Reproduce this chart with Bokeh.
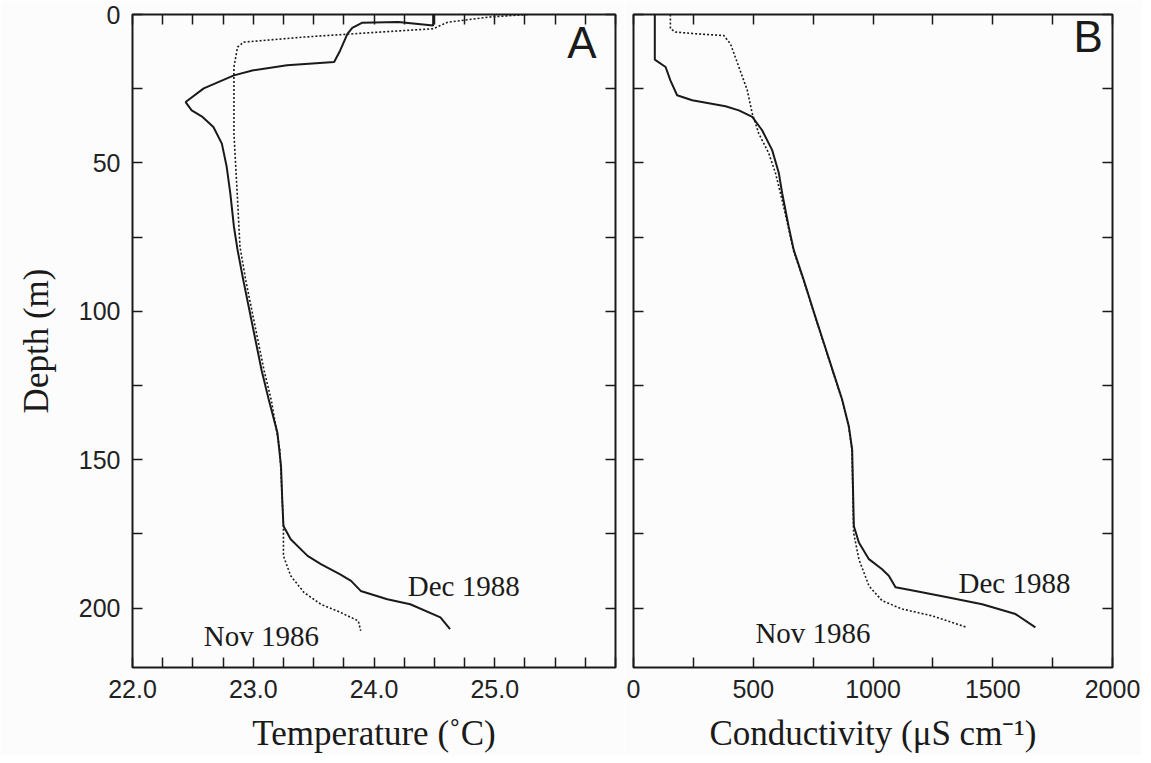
from bokeh.plotting import figure
from bokeh.models import Range1d, FixedTicker, LinearAxis, Label
from bokeh.layouts import row
from bokeh.embed import file_html
from bokeh.resources import INLINE

# ---------------- data ----------------
# Panel A: temperature profiles
temp_dec_depth = [0, 3.7, 2.5, 2.8, 4.5, 6.5, 12.1, 16.0, 17.1, 18.8, 20.5, 24.9, 29.5, 32.3,
                  34.5, 37.9, 43.5, 51.3, 60.3, 71.5, 79.3, 90, 100, 110, 120, 130, 140.9,
                  152.2, 163.4, 172.3, 176.8, 182.4, 185.2, 188.6, 190.8, 194.2, 197.0,
                  198.7, 203.1, 207.1]
temp_dec = [24.49, 24.49, 24.20, 23.90, 23.82, 23.78, 23.72, 23.67, 23.28, 23.00, 22.84,
            22.59, 22.44, 22.49, 22.58, 22.67, 22.74, 22.78, 22.81, 22.84, 22.87, 22.92,
            22.97, 23.02, 23.07, 23.13, 23.20, 23.23, 23.24, 23.25, 23.31, 23.45, 23.56,
            23.72, 23.81, 23.89, 24.11, 24.30, 24.55, 24.63]

temp_nov_depth = [0, 0.9, 2.6, 4.8, 5.4, 6.5, 7.6, 9.3, 11.0, 17.7, 40.1, 62.5, 78.2, 90,
                  100, 110, 120, 130, 146.6, 163.4, 172.3, 182.4, 189.1, 194.7, 198.7,
                  201.4, 204.3, 207.6]
temp_nov = [25.27, 24.94, 24.61, 24.49, 24.25, 23.83, 23.42, 22.92, 22.87, 22.84, 22.84,
            22.87, 22.89, 22.94, 22.99, 23.04, 23.09, 23.15, 23.22, 23.24, 23.25, 23.25,
            23.31, 23.42, 23.56, 23.72, 23.87, 23.89]

# Panel B: conductivity profiles
cond_dec_depth = [0, 15.2, 17.7, 22.2, 27.2, 28.9, 30.9, 32.3, 34.5, 39.0, 45.7, 53.5, 60.3,
                  71.5, 79.3, 90, 100, 110, 120, 129.7, 138.7, 146.6, 157.8, 172.3, 177.9,
                  183.5, 186.9, 189.1, 193.0, 194.2, 196.4, 198.7, 202.0, 206.5]
cond_dec = [89, 89, 134, 154, 182, 245, 384, 440, 496, 537, 579, 607, 621, 648, 669, 713,
            752, 792, 832, 871, 899, 913, 916, 920, 941, 983, 1038, 1066, 1094, 1177, 1316,
            1456, 1595, 1678]

cond_nov_depth = [0, 4.8, 5.9, 6.5, 7.1, 9.9, 17.7, 25.5, 33.4, 40.1, 46.8, 53.5, 60.3, 71.5,
                  79.3, 90, 100, 110, 120, 129.7, 138.7, 146.6, 157.8, 174.6, 183.5, 192.5,
                  197.5, 200.3, 202.6, 206.5]
cond_nov = [154, 154, 175, 260, 377, 405, 440, 475, 496, 523, 565, 593, 614, 646, 667, 712,
            751, 791, 831, 870, 898, 912, 915, 919, 941, 983, 1038, 1122, 1247, 1393]

# ticks / labels
depth_ticks = [0, 50, 100, 150, 200]
depth_minor = [25, 75, 125, 175]
temp_ticks = [22.0, 23.0, 24.0, 25.0]
temp_tick_labels = ["22.0", "23.0", "24.0", "25.0"]
temp_minor = [22.25, 22.5, 22.75, 23.25, 23.5, 23.75, 24.25, 24.5, 24.75,
              25.25, 25.5, 25.75, 26.0]
cond_ticks = [0, 500, 1000, 1500, 2000]
cond_tick_labels = ["0", "500", "1000", "1500", "2000"]
cond_minor = [250, 750, 1250, 1750]

series_names = ["Dec 1988", "Nov 1986"]

# ---------------- styling ----------------
BG = "#fcfcfc"
INK = "#1a1a1a"
SANS = "Liberation Sans"
SERIF = "Liberation Serif"
TICK_LEN = 10


def style_axis(ax, major, minor, labels=None, show_labels=True):
    ax.ticker = FixedTicker(ticks=major, minor_ticks=minor)
    ax.axis_line_color = None
    ax.major_tick_in = TICK_LEN
    ax.major_tick_out = 0
    ax.minor_tick_in = TICK_LEN
    ax.minor_tick_out = 0
    ax.major_tick_line_color = INK
    ax.minor_tick_line_color = INK
    ax.major_tick_line_width = 1.5
    ax.minor_tick_line_width = 1.5
    if labels is not None:
        ax.major_label_overrides = {t: l for t, l in zip(major, labels)}
    if show_labels:
        ax.major_label_text_font = SANS
        ax.major_label_text_font_size = "25px"
        ax.major_label_text_color = "#222222"
        ax.major_label_standoff = 12
    else:
        ax.major_label_text_font_size = "0px"
        ax.major_label_text_color = None
        ax.major_label_standoff = 0


def make_panel(x_range, xmajor, xminor, xlabels, xtitle, show_ylabels,
               min_left, min_right):
    p = figure(frame_width=480, frame_height=653,
               x_range=x_range, y_range=Range1d(220, 0),
               output_backend="svg", toolbar_location=None,
               min_border_left=min_left, min_border_right=min_right,
               min_border_top=14, min_border_bottom=10,
               background_fill_color=BG, border_fill_color=BG,
               x_axis_location="below", y_axis_location="left")
    p.grid.visible = False
    p.outline_line_color = INK
    p.outline_line_width = 2

    xa = p.xaxis[0]
    style_axis(xa, xmajor, xminor, xlabels, True)
    xa.axis_label = xtitle
    xa.axis_label_text_font = SERIF
    xa.axis_label_text_font_style = "normal"
    xa.axis_label_text_font_size = "35px"
    xa.axis_label_text_color = INK
    xa.axis_label_standoff = 13

    ya = p.yaxis[0]
    style_axis(ya, depth_ticks, depth_minor, None, show_ylabels)
    if show_ylabels:
        ya.axis_label = "Depth (m)"
        ya.axis_label_text_font = SERIF
        ya.axis_label_text_font_style = "normal"
        ya.axis_label_text_font_size = "35px"
        ya.axis_label_text_color = INK
        ya.axis_label_standoff = 20

    top = LinearAxis()
    style_axis(top, xmajor, xminor, None, False)
    p.add_layout(top, "above")
    right = LinearAxis()
    style_axis(right, depth_ticks, depth_minor, None, False)
    p.add_layout(right, "right")
    return p


# Panel A
pA = make_panel(Range1d(22, 26), temp_ticks, temp_minor, temp_tick_labels,
                "Temperature (˚C)", True, 132, 9)
pA.frame_width = 483
pA.line(temp_dec, temp_dec_depth, line_color=INK, line_width=2)
pA.line(temp_nov, temp_nov_depth, line_color=INK, line_width=1.6, line_dash="2 2")
pA.add_layout(Label(x=24.28, y=192.5, text=series_names[0], text_font=SERIF,
                    text_font_size="29px", text_baseline="middle", text_color=INK))
pA.add_layout(Label(x=22.59, y=209.5, text=series_names[1], text_font=SERIF,
                    text_font_size="29px", text_baseline="middle", text_color=INK))
pA.add_layout(Label(x=25.6, y=9.3, text="A", text_font=SANS,
                    text_font_size="44px", text_baseline="middle", text_color=INK))

# Panel B
pB = make_panel(Range1d(0, 2000), cond_ticks, cond_minor, cond_tick_labels,
                "Conductivity (μS cm⁻¹)", False, 9, 30)
pB.frame_width = 479
pB.line(cond_dec, cond_dec_depth, line_color=INK, line_width=2)
pB.line(cond_nov, cond_nov_depth, line_color=INK, line_width=1.6, line_dash="2 2")
pB.add_layout(Label(x=1357, y=191.5, text=series_names[0], text_font=SERIF,
                    text_font_size="29px", text_baseline="middle", text_color=INK))
pB.add_layout(Label(x=509, y=208.5, text=series_names[1], text_font=SERIF,
                    text_font_size="29px", text_baseline="middle", text_color=INK))
pB.add_layout(Label(x=1837, y=7.5, text="B", text_font=SANS,
                    text_font_size="44px", text_baseline="middle", text_color=INK))

layout = row(pA, pB, spacing=0)
open("out.html", "w").write(file_html(layout, INLINE))
